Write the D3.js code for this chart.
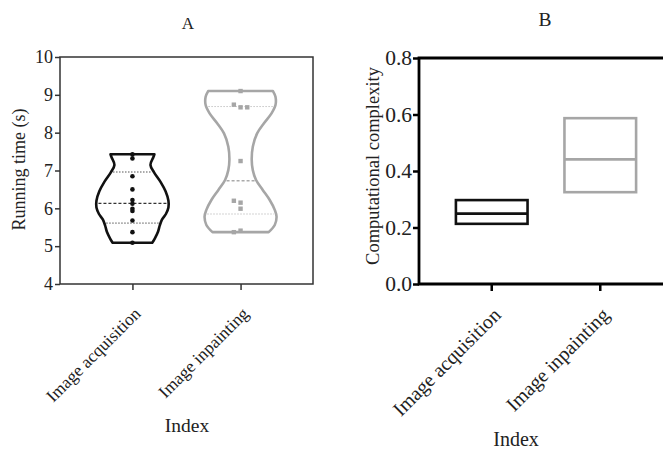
<!DOCTYPE html>
<html>
<head>
<meta charset="utf-8">
<script src="https://cdn.jsdelivr.net/npm/d3@7"></script>
<style>
  body { margin: 0; background: #fff; }
  text { font-family: "Liberation Serif", "Times New Roman", serif; fill: #222; }
</style>
</head>
<body>
<svg id="chart" width="663" height="450"></svg>
<script>
// categories shared by both panels
var categories = ["Image acquisition", "Image inpainting"];

// panel A: running time (s), individual runs
var timeAcquisition = [7.43, 7.32, 6.85, 6.5, 6.22, 6.12, 5.99, 5.93, 5.68, 5.37, 5.09];
var timeInpainting = [9.1, 8.67, 8.74, 8.67, 7.25, 6.15, 6.2, 5.99, 5.41, 5.37];
var timeMedian = [6.13, 6.73];
var timeQ1 = [5.61, 5.85];
var timeQ3 = [6.96, 8.69];

// violin outlines: value -> relative half width
var acqLevels = [7.43, 7.35, 7.15, 6.95, 6.7, 6.45, 6.2, 6.02, 5.85, 5.7, 5.55, 5.38, 5.2, 5.09];
var acqWidths = [0.61, 0.58, 0.50, 0.60, 0.78, 0.92, 1.0, 1.0, 0.93, 0.82, 0.76, 0.71, 0.62, 0.55];
var inpLevels = [9.1, 8.95, 8.73, 8.51, 8.25, 7.98, 7.63, 7.28, 7.01, 6.75, 6.48, 6.22, 5.96, 5.78, 5.56, 5.37];
var inpWidths = [0.9, 0.97, 0.97, 0.86, 0.65, 0.46, 0.34, 0.31, 0.34, 0.43, 0.62, 0.81, 0.95, 1.0, 0.95, 0.78];

var timeTicks = [4, 5, 6, 7, 8, 9, 10];

// panel B: computational complexity (min, median, max)
var complexityMin = [0.213, 0.325];
var complexityMedian = [0.249, 0.441];
var complexityMax = [0.297, 0.587];
var complexityTicks = [0, 0.2, 0.4, 0.6, 0.8];

var colors = ["#111111", "#a6a6a6"];
var lineColors = ["#555555", "#c4c4c4"];
var serif = "Liberation Serif";

var svg = d3.select("#chart");

// ---------------- Panel A ----------------
var a = {left: 60, top: 57, width: 253, height: 227};
var gA = svg.append("g").attr("transform", "translate(" + a.left + "," + a.top + ")");

var xA = d3.scalePoint().domain(categories).range([0, a.width]).padding(0.67);
var yA = d3.scaleLinear().domain([4, 10]).range([a.height, 0]);
var halfW = 36;

gA.append("rect")
    .attr("width", a.width)
    .attr("height", a.height)
    .attr("fill", "none")
    .attr("stroke", "#333")
    .attr("stroke-width", 1.5);

var axLeftA = gA.append("g")
    .call(d3.axisLeft(yA).tickValues(timeTicks).tickFormat(d3.format("d")).tickSize(5).tickSizeOuter(0))
    .attr("font-family", serif);
axLeftA.select(".domain").remove();
axLeftA.selectAll("line").attr("stroke", "#333").attr("stroke-width", 1.5);
axLeftA.selectAll("text").attr("font-size", 18).attr("fill", "#222").attr("x", -7);

var axBotA = gA.append("g").attr("transform", "translate(0," + a.height + ")")
    .call(d3.axisBottom(xA).tickSize(6).tickSizeOuter(0))
    .attr("font-family", serif);
axBotA.select(".domain").remove();
axBotA.selectAll("line").attr("stroke", "#333").attr("stroke-width", 1.5);
axBotA.selectAll("text")
    .attr("font-size", 17.5)
    .attr("fill", "#222")
    .attr("text-anchor", "end")
    .attr("dy", "0.3em")
    .attr("transform", "translate(5,27) rotate(-45)")
    .attr("x", 0).attr("y", 0);

function profile(levels, widths) {
    return levels.map(function(v, i) { return {v: v, w: widths[i]}; });
}
function widthAt(prof, v) {
    for (var i = 0; i < prof.length - 1; i++) {
        var p = prof[i], q = prof[i + 1];
        if ((v <= p.v && v >= q.v)) {
            var t = (p.v - v) / (p.v - q.v);
            return p.w + t * (q.w - p.w);
        }
    }
    return prof[prof.length - 1].w;
}

var violins = [
    {name: categories[0], pts: timeAcquisition, prof: profile(acqLevels, acqWidths), dodge: 0, marker: "circle"},
    {name: categories[1], pts: timeInpainting, prof: profile(inpLevels, inpWidths), dodge: 6.7, marker: "square"}
];

violins.forEach(function(vd, i) {
    var cx = xA(vd.name);
    var area = d3.area()
        .y(function(d) { return yA(d.v); })
        .x0(function(d) { return cx - d.w * halfW; })
        .x1(function(d) { return cx + d.w * halfW; })
        .curve(d3.curveCatmullRom);
    gA.append("path")
        .attr("d", area(vd.prof))
        .attr("fill", "none")
        .attr("stroke", colors[i])
        .attr("stroke-width", 2.6)
        .attr("stroke-linejoin", "round");

    // quartile lines (dotted) and median (dashed)
    [timeQ1[i], timeQ3[i]].forEach(function(q) {
        var w = widthAt(vd.prof, q) * halfW - 2;
        gA.append("line")
            .attr("x1", cx - w).attr("x2", cx + w)
            .attr("y1", yA(q)).attr("y2", yA(q))
            .attr("stroke", lineColors[i])
            .attr("stroke-width", 1)
            .attr("stroke-dasharray", "1.5,1.5");
    });
    var wm = widthAt(vd.prof, timeMedian[i]) * halfW - 2;
    gA.append("line")
        .attr("x1", cx - wm).attr("x2", cx + wm)
        .attr("y1", yA(timeMedian[i])).attr("y2", yA(timeMedian[i]))
        .attr("stroke", i === 0 ? "#333" : "#aaa")
        .attr("stroke-width", 1.4)
        .attr("stroke-dasharray", "3,2");

    // simple dodge so overlapping points spread sideways
    var placed = [];
    var offsets = vd.dodge ? [0, -vd.dodge, vd.dodge] : [0];
    vd.pts.forEach(function(v) {
        var py = yA(v), dx = 0;
        for (var k = 0; k < offsets.length; k++) {
            var hit = placed.some(function(p) { return p.dx === offsets[k] && Math.abs(p.y - py) < 5; });
            if (!hit) { dx = offsets[k]; break; }
            dx = offsets[k];
        }
        placed.push({y: py, dx: dx});
    });
    placed.forEach(function(p) {
        if (vd.marker === "circle") {
            gA.append("circle").attr("cx", cx + p.dx).attr("cy", p.y).attr("r", 2.3).attr("fill", colors[i]);
        } else {
            gA.append("rect").attr("x", cx + p.dx - 2.2).attr("y", p.y - 2.2)
                .attr("width", 4.4).attr("height", 4.4).attr("fill", colors[i]);
        }
    });
});

gA.append("text")
    .attr("x", 188 - a.left).attr("y", -28)
    .attr("text-anchor", "middle").attr("font-size", 17).text("A");

gA.append("text")
    .attr("transform", "translate(" + (-35) + "," + (a.height / 2 - 1) + ") rotate(-90)")
    .attr("text-anchor", "middle").attr("font-size", 18).text("Running time (s)");

gA.append("text")
    .attr("x", 187 - a.left).attr("y", 432 - a.top)
    .attr("text-anchor", "middle").attr("font-size", 19.5).text("Index");

// ---------------- Panel B ----------------
var b = {left: 419, top: 58, width: 254, height: 226};
var gB = svg.append("g").attr("transform", "translate(" + b.left + "," + b.top + ")");

var xB = d3.scaleBand().domain(categories).range([0, b.width]).paddingInner(0.34).paddingOuter(0.34);
var yB = d3.scaleLinear().domain([0, 0.8]).range([b.height, 0]);

gB.append("path")
    .attr("d", d3.line()([[b.width + 20, 0], [0, 0], [0, b.height], [b.width + 20, b.height]]))
    .attr("fill", "none")
    .attr("stroke", "#000")
    .attr("stroke-width", 2.8);

var axLeftB = gB.append("g")
    .call(d3.axisLeft(yB).tickValues(complexityTicks).tickFormat(d3.format(".1f")).tickSize(6).tickSizeOuter(0))
    .attr("font-family", serif);
axLeftB.select(".domain").remove();
axLeftB.selectAll("line").attr("stroke", "#000").attr("stroke-width", 2.5);
axLeftB.selectAll("text").attr("font-size", 21.5).attr("fill", "#222").attr("x", -7);

var axBotB = gB.append("g").attr("transform", "translate(0," + b.height + ")")
    .call(d3.axisBottom(xB).tickSize(7).tickSizeOuter(0))
    .attr("font-family", serif);
axBotB.select(".domain").remove();
axBotB.selectAll("line").attr("stroke", "#000").attr("stroke-width", 2.5);
axBotB.selectAll("text")
    .attr("font-size", 20)
    .attr("fill", "#222")
    .attr("text-anchor", "end")
    .attr("dy", "0.3em")
    .attr("transform", "translate(6,28) rotate(-45)")
    .attr("x", 0).attr("y", 0);

categories.forEach(function(c, i) {
    gB.append("rect")
        .attr("x", xB(c))
        .attr("y", yB(complexityMax[i]))
        .attr("width", xB.bandwidth())
        .attr("height", yB(complexityMin[i]) - yB(complexityMax[i]))
        .attr("fill", "none")
        .attr("stroke", colors[i])
        .attr("stroke-width", 2.6);
    gB.append("line")
        .attr("x1", xB(c)).attr("x2", xB(c) + xB.bandwidth())
        .attr("y1", yB(complexityMedian[i])).attr("y2", yB(complexityMedian[i]))
        .attr("stroke", colors[i])
        .attr("stroke-width", 2.6);
});

gB.append("text")
    .attr("x", 545 - b.left).attr("y", 26 - b.top)
    .attr("text-anchor", "middle").attr("font-size", 19.5).text("B");

gB.append("text")
    .attr("transform", "translate(" + (379 - b.left) + "," + (b.height / 2 - 5) + ") rotate(-90)")
    .attr("text-anchor", "middle").attr("font-size", 18.5).text("Computational complexity");

gB.append("text")
    .attr("x", 516 - b.left).attr("y", 446 - b.top)
    .attr("text-anchor", "middle").attr("font-size", 20).text("Index");
</script>
</body>
</html>
